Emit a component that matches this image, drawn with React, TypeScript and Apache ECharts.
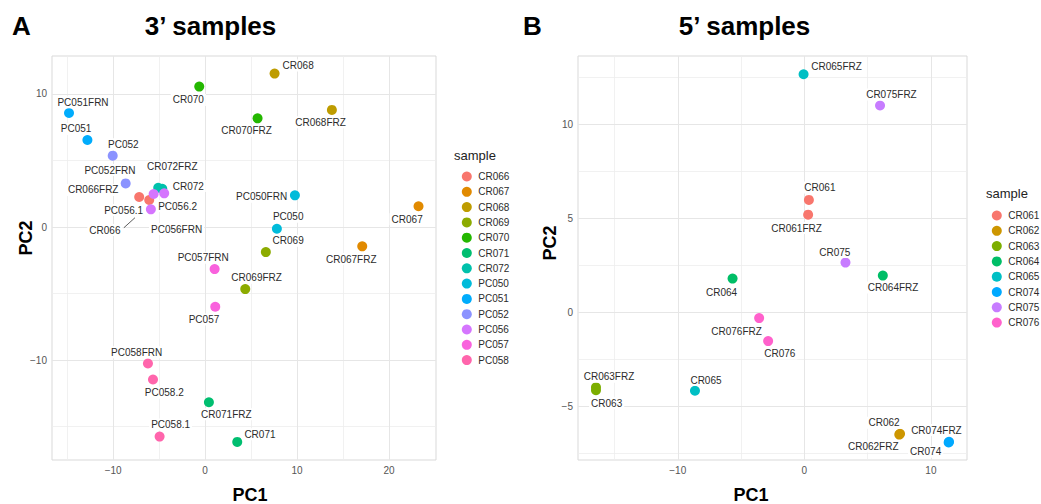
import React, { useEffect, useRef } from "react";
import * as echarts from "echarts";

// ---------- Panel A (3' samples) ----------
const samplesA = ["CR066", "CR067", "CR068", "CR069", "CR070", "CR071", "CR072", "PC050", "PC051", "PC052", "PC056", "PC057", "PC058"];
const paletteA = ["#F8766D", "#E18A00", "#BE9C00", "#8CAB00", "#24B700", "#00BE70", "#00C1AB", "#00BBDA", "#00ACFC", "#8B93FF", "#D575FE", "#F962DD", "#FF65AC"];
const namesA = ["PC051FRN", "PC051", "PC052", "PC052FRN", "CR066FRZ", "CR066", "CR072FRZ", "CR072", "PC056.1", "PC056.2", "PC056FRN", "CR070", "CR068", "CR070FRZ", "CR068FRZ", "PC050FRN", "PC050", "CR067", "CR069", "CR067FRZ", "PC057FRN", "CR069FRZ", "PC057", "PC058FRN", "PC058.2", "CR071FRZ", "PC058.1", "CR071"];
const groupA = ["PC051", "PC051", "PC052", "PC052", "CR066", "CR066", "CR072", "CR072", "PC056", "PC056", "PC056", "CR070", "CR068", "CR070", "CR068", "PC050", "PC050", "CR067", "CR069", "CR067", "PC057", "CR069", "PC057", "PC058", "PC058", "CR071", "PC058", "CR071"];
const pc1A = [-14.8, -12.8, -10.05, -8.64, -7.17, -6.08, -5.1, -4.66, -5.6, -4.45, -5.9, -0.64, 7.55, 5.7, 13.78, 9.76, 7.8, 23.2, 6.6, 17.08, 1.03, 4.36, 1.1, -6.22, -5.67, 0.41, -4.95, 3.49];
const pc2A = [8.57, 6.54, 5.36, 3.28, 2.26, 2.03, 2.95, 2.88, 2.48, 2.53, 1.33, 10.55, 11.53, 8.17, 8.8, 2.38, -0.13, 1.56, -1.88, -1.45, -3.16, -4.66, -5.99, -10.25, -11.45, -13.16, -15.74, -16.14];
const connectorA = [[-8.83, -0.05], [-7.63, 0.7]];
const xTicksA = [-10, 0, 10, 20];
const yTicksA = [-10, 0, 10];
const xMinorA = [-15, -5, 5, 15];
const yMinorA = [-15, -5, 5];

// ---------- Panel B (5' samples) ----------
const samplesB = ["CR061", "CR062", "CR063", "CR064", "CR065", "CR074", "CR075", "CR076"];
const paletteB = ["#F8766D", "#CD9600", "#7CAE00", "#00BE67", "#00BFC4", "#00A9FF", "#C77CFF", "#FF61CC"];
const namesB = ["CR065FRZ", "CR075FRZ", "CR061", "CR061FRZ", "CR075", "CR064FRZ", "CR064", "CR076FRZ", "CR076", "CR063FRZ", "CR063", "CR065", "CR062", "CR062FRZ", "CR074FRZ", "CR074"];
const groupB = ["CR065", "CR075", "CR061", "CR061", "CR075", "CR064", "CR064", "CR076", "CR076", "CR063", "CR063", "CR065", "CR062", "CR062", "CR074", "CR074"];
const pc1B = [-0.06, 5.98, 0.36, 0.3, 3.25, 6.2, -5.67, -3.57, -2.86, -16.46, -16.46, -8.64, 7.56, 7.5, 11.43, 11.4];
const pc2B = [12.66, 11.0, 5.98, 5.2, 2.65, 1.96, 1.8, -0.3, -1.52, -3.98, -4.13, -4.16, -6.45, -6.49, -6.87, -6.91];
const xTicksB = [-10, 0, 10];
const yTicksB = [-5, 0, 5, 10];
const xMinorB = [-15, -5, 5];
const yMinorB = [-7.5, -2.5, 2.5, 7.5, 12.5];

// label offsets (px) – styling only
const labelOffsets: Record<string, number[]> = {
  PC051FRN: [14, -10.7], PC051: [-11.3, -11], PC052: [10.6, -11.4], PC052FRN: [-15.7, -13.3],
  CR066FRZ: [-46, -7], CR066: [-44.3, 30], CR072FRZ: [14, -21], CR072: [26, -2.7],
  "PC056.1": [-30, 16], "PC056.2": [13.4, 12.7], PC056FRN: [25.7, 19.7], CR070: [-11, 13.3],
  CR068: [23.6, -8], CR070FRZ: [-11, 12.4], CR068FRZ: [-11.3, 12.3], PC050FRN: [-33.3, 1.4],
  PC050: [11.3, -12], CR067: [-11.4, 13], CR069: [22.3, -11.3], CR067FRZ: [-11, 12.7],
  PC057FRN: [-11.4, -11.3], CR069FRZ: [11.4, -11.3], PC057: [-11.3, 12.6], PC058FRN: [-11.3, -11.3],
  "PC058.2": [11.3, 13.4], CR071FRZ: [17.4, 12], "PC058.1": [11, -12], CR071: [22.7, -7.7],
  CR065FRZ: [33, -7.3], CR075FRZ: [11.4, -11], CR061: [11, -12.4], CR061FRZ: [-11.6, 13.4],
  CR075: [-10.7, -10.6], CR064FRZ: [10.3, 12], CR064: [-11, 13.4], CR076FRZ: [-22.6, 13],
  CR076: [11.7, 12.3], CR063FRZ: [13, -10.6], CR063: [10.7, 13], CR065: [11, -10.7],
  CR062: [-16, -11], CR062FRZ: [-26, 12], CR074FRZ: [-12.6, -11.7], CR074: [-23, 9.2],
};

const FONT = "'Liberation Sans', Arial, Helvetica, sans-serif";

function pointSeries(samples: string[], palette: string[], names: string[], groups: string[], xs: number[], ys: number[], idx: number) {
  return samples.map((s, si) => ({
    type: "scatter",
    name: s,
    xAxisIndex: idx,
    yAxisIndex: idx,
    symbol: "circle",
    symbolSize: 10,
    z: 3,
    itemStyle: { color: palette[si], opacity: 1 },
    emphasis: { disabled: true },
    label: {
      show: true,
      position: "inside",
      formatter: "{b}",
      color: "#2b2b2b",
      fontSize: 10,
      fontFamily: FONT,
      backgroundColor: "#ffffff",
      padding: [1, 2],
    },
    data: names
      .map((n, i) => ({ n, i }))
      .filter((o) => groups[o.i] === s)
      .map(({ n, i }) => ({
        name: n,
        value: [xs[i], ys[i]],
        label: { offset: labelOffsets[n] || [0, 0] },
      })),
  }));
}

function gridSeries(idx: number, majorX: number[], minorX: number[], majorY: number[], minorY: number[]) {
  const major = { color: "#e6e6e6", width: 1, type: "solid" };
  const minor = { color: "#eeeeee", width: 0.8, type: "solid" };
  return {
    type: "scatter",
    xAxisIndex: idx,
    yAxisIndex: idx,
    data: [],
    z: 1,
    silent: true,
    markLine: {
      silent: true,
      z: 1,
      animation: false,
      symbol: ["none", "none"],
      label: { show: false },
      emphasis: { disabled: true },
      data: [
        ...minorX.map((v) => ({ xAxis: v, lineStyle: minor })),
        ...minorY.map((v) => ({ yAxis: v, lineStyle: minor })),
        ...majorX.map((v) => ({ xAxis: v, lineStyle: major })),
        ...majorY.map((v) => ({ yAxis: v, lineStyle: major })),
      ],
    },
  };
}

const minusFmt = (v: number) => String(v).replace("-", "\u2212");

function axis(idx: number, min: number, max: number, ticks: number[]) {
  return {
    gridIndex: idx,
    type: "value",
    min,
    max,
    splitLine: { show: false },
    axisLine: { show: false },
    axisTick: { show: false },
    axisLabel: {
      customValues: ticks,
      formatter: minusFmt,
      color: "#555555",
      fontSize: 10,
      fontFamily: FONT,
      margin: 5,
      showMinLabel: true,
      showMaxLabel: true,
    },
  };
}

export default function App() {
  const ref = useRef<HTMLDivElement>(null);
  useEffect(() => {
    if (!ref.current) return;
    const chart = echarts.init(ref.current, undefined, { renderer: "svg" });
    const legendCommon = {
      orient: "vertical",
      itemWidth: 13,
      itemHeight: 10,
      itemGap: 5.3,
      icon: "circle",
      selectedMode: false,
      textStyle: { fontSize: 10, color: "#2b2b2b", fontFamily: FONT, lineHeight: 10 },
    };
    const title = (text: string, x: number, y: number, size: number, align: string, rot = 0) => ({
      type: "text",
      x,
      y,
      rotation: rot,
      style: { text, fontSize: size, fontWeight: "bold", fontFamily: FONT, fill: "#000", align, verticalAlign: "middle" },
    });
    chart.setOption({
      animation: false,
      backgroundColor: "#ffffff",
      grid: [
        { left: 52, top: 56, width: 384, height: 404, show: true, borderColor: "#d9d9d9", borderWidth: 1, backgroundColor: "transparent" },
        { left: 578, top: 56, width: 389, height: 404, show: true, borderColor: "#d9d9d9", borderWidth: 1, backgroundColor: "transparent" },
      ],
      xAxis: [axis(0, -16.65, 25.1, xTicksA), axis(1, -17.88, 12.85, xTicksB)],
      yAxis: [axis(0, -17.5, 12.85, yTicksA), axis(1, -7.84, 13.63, yTicksB)],
      legend: [
        { ...legendCommon, data: samplesA, left: 456.8, top: 166.5 },
        { ...legendCommon, data: samplesB, left: 986.8, top: 205.5 },
      ],
      graphic: [
        title("A", 12, 26, 26, "left"),
        title("3\u2019 samples", 210.5, 26, 26, "center"),
        title("B", 523, 26, 26, "left"),
        title("5\u2019 samples", 744.5, 26, 26, "center"),
        title("PC1", 250, 495, 18, "center"),
        title("PC1", 751, 495, 18, "center"),
        title("PC2", 26, 238, 18, "center", Math.PI / 2),
        title("PC2", 550, 243, 18, "center", Math.PI / 2),
        { type: "text", x: 454, y: 155, style: { text: "sample", fontSize: 13, fontFamily: FONT, fill: "#222", align: "left", verticalAlign: "middle" } },
        { type: "text", x: 986, y: 193.5, style: { text: "sample", fontSize: 13, fontFamily: FONT, fill: "#222", align: "left", verticalAlign: "middle" } },
      ],
      series: [
        gridSeries(0, xTicksA, xMinorA, yTicksA, yMinorA),
        gridSeries(1, xTicksB, xMinorB, yTicksB, yMinorB),
        {
          type: "line",
          xAxisIndex: 0,
          yAxisIndex: 0,
          data: connectorA,
          symbol: "none",
          silent: true,
          z: 2,
          lineStyle: { color: "#333", width: 0.8 },
        },
        ...pointSeries(samplesA, paletteA, namesA, groupA, pc1A, pc2A, 0),
        ...pointSeries(samplesB, paletteB, namesB, groupB, pc1B, pc2B, 1),
      ],
    });
    return () => chart.dispose();
  }, []);
  return <div ref={ref} style={{ position: "fixed", left: 0, top: 0, width: 1041, height: 504, background: "#fff" }} />;
}
